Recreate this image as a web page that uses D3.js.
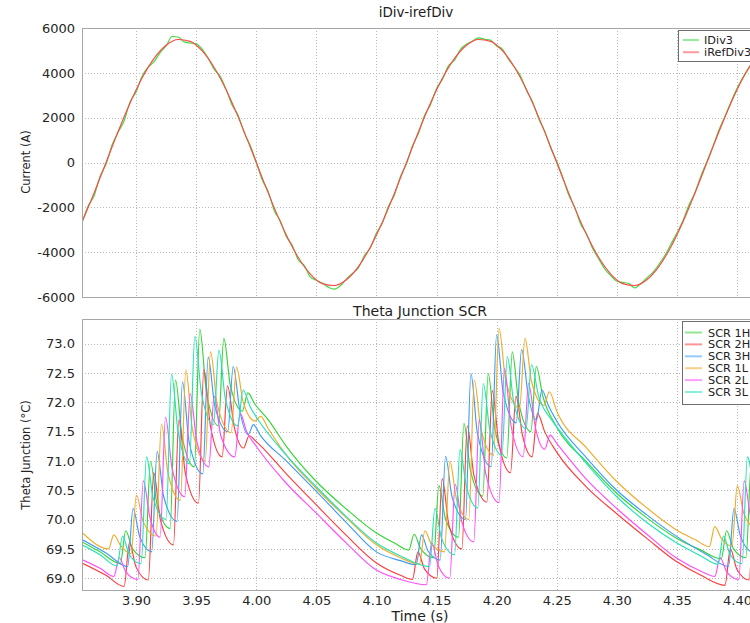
<!DOCTYPE html>
<html><head><meta charset="utf-8">
<script src="https://cdn.jsdelivr.net/npm/d3@7"></script>
<style>body{margin:0;background:#fff;} svg{display:block;font-family:"DejaVu Sans",Verdana,sans-serif;}</style>
</head><body><svg id="c" width="750" height="623"></svg>
<script>
// ---------- data ----------
const timeTicks = [3.90,3.95,4.00,4.05,4.10,4.15,4.20,4.25,4.30,4.35,4.40];
const currentTicks = [-6000,-4000,-2000,0,2000,4000,6000];
const thetaTicks = [69.0,69.5,70.0,70.5,71.0,71.5,72.0,72.5,73.0];

const iRefDiv3 = [[3.855,-2650],[3.865,-1368],[3.875,0],[3.885,1368],[3.895,2650],[3.905,3765],[3.915,4644],[3.925,5231],[3.935,5489],[3.945,5403],[3.955,4976],[3.965,4238],[3.975,3233],[3.985,2025],[3.995,689],[4.005,-689],[4.015,-2025],[4.025,-3233],[4.035,-4238],[4.045,-4976],[4.055,-5403],[4.065,-5489],[4.075,-5231],[4.085,-4644],[4.095,-3765],[4.105,-2650],[4.115,-1368],[4.125,0],[4.135,1368],[4.145,2650],[4.155,3765],[4.165,4644],[4.175,5231],[4.185,5489],[4.195,5403],[4.205,4976],[4.215,4238],[4.225,3233],[4.235,2025],[4.245,689],[4.255,-689],[4.265,-2025],[4.275,-3233],[4.285,-4238],[4.295,-4976],[4.305,-5403],[4.315,-5489],[4.325,-5231],[4.335,-4644],[4.345,-3765],[4.355,-2650],[4.365,-1368],[4.375,0],[4.385,1368],[4.395,2650],[4.405,3765],[4.415,4644]];

const iDiv3 = [[3.855,-2700],[3.860,-1950],[3.865,-1500],[3.870,-620],[3.875,-80],[3.880,780],[3.885,1350],[3.890,1850],[3.895,2700],[3.900,3150],[3.905,3850],[3.910,4250],[3.915,4500],[3.920,4900],[3.925,5200],[3.930,5620],[3.935,5600],[3.940,5380],[3.945,5330],[3.950,5300],[3.955,5060],[3.960,4650],[3.965,4150],[3.970,3850],[3.975,3250],[3.980,2550],[3.985,2100],[3.990,1320],[3.995,760],[4.000,20],[4.005,-780],[4.010,-1300],[4.015,-2150],[4.020,-2600],[4.025,-3300],[4.030,-3700],[4.035,-4350],[4.040,-4600],[4.045,-5100],[4.050,-5250],[4.055,-5380],[4.060,-5560],[4.065,-5650],[4.070,-5500],[4.075,-5200],[4.080,-4950],[4.085,-4700],[4.090,-4150],[4.095,-3800],[4.100,-3150],[4.105,-2700],[4.110,-1950],[4.115,-1450],[4.120,-620],[4.125,-60],[4.130,750],[4.135,1300],[4.140,2100],[4.145,2580],[4.150,3300],[4.155,3720],[4.160,4320],[4.165,4560],[4.170,5050],[4.175,5280],[4.180,5420],[4.185,5560],[4.190,5500],[4.195,5450],[4.200,5200],[4.205,5050],[4.210,4600],[4.215,4250],[4.220,3850],[4.225,3200],[4.230,2700],[4.235,1950],[4.240,1400],[4.245,650],[4.250,60],[4.255,-650],[4.260,-1450],[4.265,-2000],[4.270,-2750],[4.275,-3200],[4.280,-3850],[4.285,-4300],[4.290,-4750],[4.295,-5050],[4.300,-5300],[4.305,-5350],[4.310,-5400],[4.315,-5600],[4.320,-5400],[4.325,-5150],[4.330,-4900],[4.335,-4550],[4.340,-4150],[4.345,-3650],[4.350,-3150],[4.355,-2600],[4.360,-1900],[4.365,-1350],[4.370,-600],[4.375,50],[4.380,720],[4.385,1450],[4.390,2050],[4.395,2700],[4.400,3300],[4.405,3800],[4.410,4250],[4.415,4600],[4.420,4950]];

const scr1H = [[3.855,69.62],[3.87,69.45],[3.8869,69.25],[3.8914,69.81],[3.8969,69.51],[3.9075,69.35],[3.912,70.99],[3.9175,70.25],[3.9283,69.85],[3.9328,72.38],[3.9383,71.42],[3.9485,70.9],[3.953,73.25],[3.9585,72.18],[3.9685,71.6],[3.973,73.09],[3.9785,72.28],[3.9885,71.85],[3.993,72.16],[3.9985,71.98],[4.01,71.7],[4.025,71.25],[4.05,70.65],[4.075,70.18],[4.1,69.77],[4.115,69.6],[4.1269,69.48],[4.1314,69.75],[4.1369,69.5],[4.1475,69.35],[4.152,70.58],[4.1575,70.01],[4.1683,69.7],[4.1728,71.64],[4.1783,70.83],[4.1885,70.4],[4.193,72.49],[4.1985,71.55],[4.2085,71.05],[4.213,72.86],[4.2185,71.98],[4.2285,71.5],[4.233,72.61],[4.2385,72.1],[4.25,71.58],[4.275,70.98],[4.3,70.45],[4.325,70.03],[4.35,69.68],[4.37,69.48],[4.3869,69.33],[4.3914,69.81],[4.3969,69.51],[4.4075,69.35],[4.412,70.99],[4.4175,70.25]];
const scr2H = [[3.855,69.26],[3.875,69.05],[3.89,68.86],[3.8945,69.61],[3.9,69.19],[3.9102,68.97],[3.9147,70.8],[3.9202,70.0],[3.9311,69.57],[3.9356,71.7],[3.9411,70.78],[3.9519,70.28],[3.9564,72.56],[3.9619,71.59],[3.9716,71.07],[3.9761,72.28],[3.9816,71.59],[3.9895,71.22],[3.994,71.43],[4.0,71.33],[4.025,70.78],[4.05,70.25],[4.075,69.73],[4.1,69.26],[4.12,69.05],[4.13,68.98],[4.1345,69.45],[4.14,69.16],[4.1502,69.0],[4.1547,70.7],[4.1602,69.92],[4.1711,69.5],[4.1756,71.6],[4.1811,70.76],[4.1919,70.3],[4.1964,72.2],[4.2019,71.29],[4.2116,70.8],[4.2161,72.1],[4.2216,71.43],[4.2295,71.07],[4.234,71.81],[4.24,71.5],[4.25,71.15],[4.275,70.55],[4.3,70.1],[4.325,69.68],[4.35,69.28],[4.37,69.05],[4.39,68.88],[4.3945,69.5],[4.4,69.15],[4.4102,68.97],[4.4147,70.7],[4.4202,70.0]];
const scr3H = [[3.855,69.66],[3.875,69.43],[3.893,69.2],[3.8975,70.19],[3.903,69.71],[3.913,69.45],[3.9175,71.16],[3.923,70.39],[3.9341,69.97],[3.9386,72.35],[3.9441,71.33],[3.9555,70.78],[3.96,72.77],[3.9655,71.94],[3.9763,71.5],[3.9808,72.61],[3.9863,71.86],[3.9932,71.45],[3.9977,71.62],[4.003,71.45],[4.025,71.0],[4.05,70.48],[4.075,69.95],[4.1,69.45],[4.12,69.3],[4.133,69.23],[4.1375,69.74],[4.143,69.46],[4.153,69.31],[4.1575,71.08],[4.163,70.38],[4.1741,70.0],[4.1786,72.49],[4.1841,71.46],[4.1955,70.9],[4.2,73.15],[4.2055,72.17],[4.2163,71.65],[4.2208,72.9],[4.2263,72.12],[4.2332,71.7],[4.2377,72.21],[4.243,71.95],[4.25,71.68],[4.275,71.05],[4.3,70.5],[4.325,70.08],[4.35,69.71],[4.375,69.4],[4.393,69.2],[4.3975,70.19],[4.403,69.71],[4.413,69.45],[4.4175,71.16]];
const scr1L = [[3.855,69.78],[3.877,69.5],[3.8815,69.74],[3.887,69.56],[3.8958,69.42],[3.9003,70.42],[3.9058,69.97],[3.9166,69.72],[3.9211,71.63],[3.9266,70.79],[3.9369,70.33],[3.9414,72.55],[3.9469,71.54],[3.9575,71.0],[3.962,72.86],[3.9675,71.96],[3.9791,71.48],[3.9836,72.6],[3.9891,72.0],[3.9991,71.68],[4.0036,71.76],[4.01,71.55],[4.025,71.1],[4.05,70.53],[4.075,70.03],[4.1,69.57],[4.12,69.35],[4.1358,69.24],[4.1403,69.81],[4.1458,69.58],[4.1566,69.45],[4.1611,71.0],[4.1666,70.35],[4.1769,70.0],[4.1814,72.38],[4.1869,71.55],[4.1975,71.1],[4.202,73.26],[4.2075,72.38],[4.2191,71.9],[4.2236,73.09],[4.2291,72.35],[4.2394,71.95],[4.2439,72.18],[4.25,71.85],[4.275,71.22],[4.3,70.65],[4.325,70.2],[4.35,69.82],[4.365,69.66],[4.377,69.54],[4.3815,69.88],[4.387,69.68],[4.3958,69.55],[4.4003,70.58],[4.4058,70.1],[4.4176,69.8]];
const scr2L = [[3.855,69.32],[3.87,69.17],[3.8815,69.03],[3.886,69.35],[3.8915,69.11],[3.9015,68.98],[3.906,70.66],[3.9115,70.04],[3.92,69.7],[3.9245,71.75],[3.93,70.87],[3.9405,70.39],[3.945,72.15],[3.9505,71.34],[3.9605,70.9],[3.965,72.1],[3.9705,71.43],[3.9821,71.07],[3.9866,71.81],[3.992,71.5],[4.0,71.25],[4.025,70.62],[4.05,70.11],[4.075,69.6],[4.1,69.14],[4.12,68.98],[4.1415,68.89],[4.146,69.61],[4.1515,69.21],[4.161,69.0],[4.1655,70.6],[4.171,69.96],[4.181,69.62],[4.1855,71.7],[4.191,70.78],[4.202,70.29],[4.2065,72.58],[4.212,71.6],[4.2221,71.07],[4.2266,72.32],[4.2321,71.59],[4.24,71.2],[4.2445,71.44],[4.25,71.3],[4.275,70.68],[4.3,70.19],[4.325,69.75],[4.35,69.34],[4.37,69.12],[4.3815,69.03],[4.386,69.35],[4.3915,69.11],[4.4015,68.98],[4.406,70.66],[4.4115,70.04],[4.421,69.7]];
const scr3L = [[3.855,69.57],[3.87,69.4],[3.8842,69.21],[3.8887,69.72],[3.8942,69.41],[3.9042,69.25],[3.9087,71.07],[3.9142,70.37],[3.925,70.0],[3.9295,72.48],[3.935,71.49],[3.9444,70.95],[3.9489,73.13],[3.9544,72.15],[3.9644,71.62],[3.9689,72.89],[3.9744,72.05],[3.9845,71.6],[3.989,72.21],[3.995,71.92],[4.0,71.75],[4.025,71.1],[4.05,70.56],[4.075,70.05],[4.1,69.6],[4.12,69.38],[4.1442,69.2],[4.1487,70.19],[4.1542,69.68],[4.165,69.4],[4.1695,71.19],[4.175,70.55],[4.1844,70.2],[4.1889,72.32],[4.1944,71.53],[4.2044,71.1],[4.2089,72.78],[4.2144,71.98],[4.2245,71.55],[4.229,72.64],[4.235,72.1],[4.245,71.72],[4.25,71.58],[4.275,70.95],[4.3,70.39],[4.325,69.95],[4.35,69.6],[4.37,69.38],[4.3842,69.24],[4.3887,69.72],[4.3942,69.41],[4.4042,69.25],[4.4087,71.07],[4.4142,70.37]];

const topSeries = [
  {name:"IDiv3", data:iDiv3, color:"#3ddc3d"},
  {name:"iRefDiv3", data:iRefDiv3, color:"#ff4747"}
];
const botSeries = [
  {name:"SCR 1H", data:scr1H, color:"#33d433"},
  {name:"SCR 2H", data:scr2H, color:"#ff3c3c"},
  {name:"SCR 3H", data:scr3H, color:"#3d9cf5"},
  {name:"SCR 1L", data:scr1L, color:"#f2aa2a"},
  {name:"SCR 2L", data:scr2L, color:"#ff4cff"},
  {name:"SCR 3L", data:scr3L, color:"#22e3b4"}
];

// ---------- layout ----------
const svg = d3.select("#c");
const L = 82, R = 758;
const x = d3.scaleLinear().domain([3.855, 4.4175]).range([L, R]);
const yTop = d3.scaleLinear().domain([-6000, 6000]).range([297, 28]);
const yBot = d3.scaleLinear().domain([68.8, 73.42]).range([590, 319]);

function panel(id, y, yTicks, fmt, series, showX) {
  const [b, t] = y.range();
  svg.append("clipPath").attr("id", id).append("rect")
    .attr("x", L).attr("y", t).attr("width", R - L).attr("height", b - t);
  const grid = svg.append("g").attr("stroke", "#b8b8b8").attr("stroke-dasharray", "1,2").attr("stroke-width", 1);
  grid.selectAll(".gx").data(timeTicks).join("line")
    .attr("x1", d => Math.round(x(d)) + 0.5).attr("x2", d => Math.round(x(d)) + 0.5)
    .attr("y1", t).attr("y2", b);
  grid.selectAll(".gy").data(yTicks).join("line")
    .attr("x1", L).attr("x2", R)
    .attr("y1", d => Math.round(y(d)) + 0.5).attr("y2", d => Math.round(y(d)) + 0.5);

  const line = d3.line().x(d => x(d[0])).y(d => y(d[1])).curve(d3.curveMonotoneX);
  svg.append("g").attr("clip-path", `url(#${id})`)
    .selectAll("path").data(series).join("path")
    .attr("d", d => line(d.data)).attr("fill", "none")
    .attr("stroke", d => d.color).attr("stroke-width", 1.15);

  svg.append("rect").attr("x", L + 0.5).attr("y", t + 0.5).attr("width", R - L).attr("height", b - t)
    .attr("fill", "none").attr("stroke", "#a6a6a6").attr("stroke-width", 1);

  const ya = svg.append("g").attr("transform", `translate(${L},0)`)
    .call(d3.axisLeft(y).tickValues(yTicks).tickSize(0).tickPadding(7).tickFormat(fmt));
  ya.select(".domain").remove();
  ya.selectAll("text").attr("font-size", 13).attr("fill", "#262626").attr("font-family", "DejaVu Sans");

  if (showX) {
    const xa = svg.append("g").attr("transform", `translate(0,${b})`)
      .call(d3.axisBottom(x).tickValues(timeTicks).tickSize(0).tickPadding(6).tickFormat(d3.format(".2f")));
    xa.select(".domain").remove();
    xa.selectAll("text").attr("font-size", 13).attr("fill", "#262626").attr("font-family", "DejaVu Sans");
  }
}

panel("clipTop", yTop, currentTicks, d => String(d), topSeries, false);
panel("clipBot", yBot, thetaTicks, d3.format(".1f"), botSeries, true);

// titles
svg.append("text").attr("x", 416).attr("y", 17).attr("text-anchor", "middle")
  .attr("font-size", 13.5).attr("fill", "#222").text("iDiv-irefDiv");
svg.append("text").attr("x", 420).attr("y", 316).attr("text-anchor", "middle")
  .attr("font-size", 14).attr("fill", "#222").text("Theta Junction SCR");
svg.append("text").attr("x", 420).attr("y", 620.5).attr("text-anchor", "middle")
  .attr("font-size", 14).attr("fill", "#222").text("Time (s)");
svg.append("text").attr("transform", "translate(30,162) rotate(-90)").attr("text-anchor", "middle")
  .attr("font-size", 11.5).attr("fill", "#222").text("Current (A)");
svg.append("text").attr("transform", "translate(30,455) rotate(-90)").attr("text-anchor", "middle")
  .attr("font-size", 11.5).attr("fill", "#222").text("Theta Junction (°C)");

// legends
function legend(series, bx, by, bh, ly0, dy, lx1, lx2, tx) {
  svg.append("rect").attr("x", bx + 0.5).attr("y", by + 0.5).attr("width", 100).attr("height", bh)
    .attr("fill", "#fff").attr("stroke", "#6e6e6e").attr("stroke-width", 1);
  const g = svg.append("g");
  series.forEach((s, i) => {
    const yy = ly0 + i * dy;
    g.append("line").attr("x1", lx1).attr("x2", lx2).attr("y1", yy).attr("y2", yy)
      .attr("stroke", s.color).attr("stroke-width", 2).attr("stroke-opacity", 0.55);
    g.append("text").attr("x", tx).attr("y", yy + 4).attr("font-size", 11.3).attr("fill", "#222").text(s.name);
  });
}
legend(topSeries, 678, 30, 31, 40, 12.2, 683, 699, 704);
legend(botSeries, 682, 321, 83, 332.5, 11.9, 685, 702, 708);
</script></body></html>
